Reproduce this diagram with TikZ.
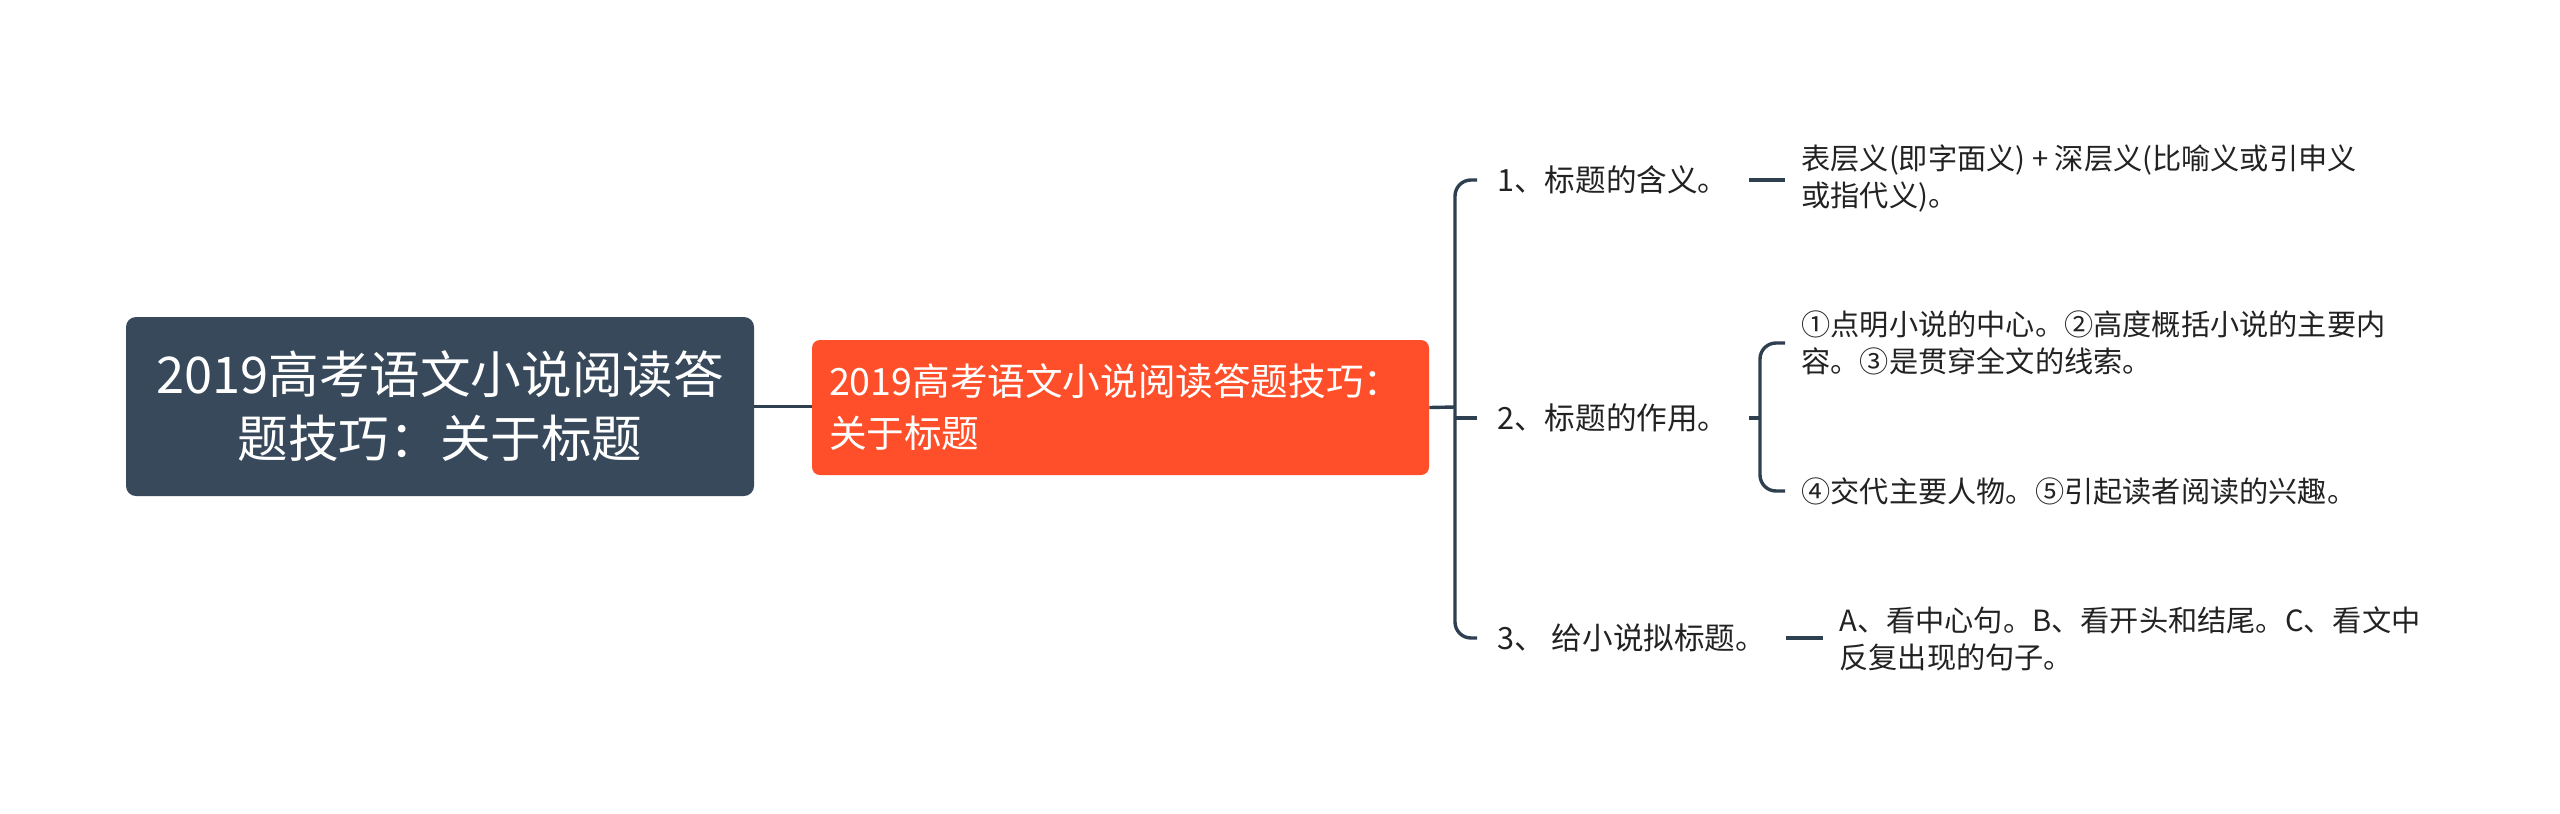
\documentclass[tikz,border=0pt]{standalone}
\usepackage{fontspec}
\setmainfont{Noto Sans CJK SC}
\definecolor{rootc}{HTML}{37495A}
\definecolor{mainc}{HTML}{FF4F2A}
\definecolor{linec}{HTML}{2E3F4F}
\definecolor{txtc}{HTML}{222222}
\begin{document}
\begin{tikzpicture}[x=0.5pt,y=-0.5pt,
  conn/.style={draw=linec,line width=1.7pt},
  rootbox/.style={fill=rootc, rounded corners=5pt, text=white, font=\fontsize{25.3}{32}\selectfont, align=center, minimum width=314pt, minimum height=89.5pt, inner sep=0pt},
  mainbox/.style={fill=mainc, rounded corners=4pt, text=white, font=\fontsize{18.8}{26}\selectfont, align=left, text width=291.5pt, minimum height=67.5pt, inner xsep=8.5pt, inner ysep=0pt},
  subnode/.style={text=txtc, font=\fontsize{15.3}{18}\selectfont, inner xsep=10pt, inner ysep=2pt, anchor=west},
  leaf/.style={text=txtc, font=\fontsize{14.6}{18.5}\selectfont, inner xsep=8pt, inner ysep=2pt, anchor=west, align=left}]
\useasboundingbox (0,0) rectangle (2560,814);
\node[rootbox] (root) at (440,406.5) {2019高考语文小说阅读答\\题技巧：关于标题};
\node[mainbox] (main) at (1120.5,407.5) {2019高考语文小说阅读答题技巧：\\关于标题};
\node[subnode] (n1) at (1477,180) {1、标题的含义。};
\node[subnode] (n2) at (1477,418) {2、标题的作用。};
\node[subnode] (n3) at (1477,638) {3、 给小说拟标题。};
\node[leaf] (l1) at (1785,178) {表层义(即字面义) + 深层义(比喻义或引申义\\或指代义)。};
\node[leaf] (l2a) at (1785,343) {①点明小说的中心。②高度概括小说的主要内\\容。③是贯穿全文的线索。};
\node[leaf] (l2b) at (1785,491) {④交代主要人物。⑤引起读者阅读的兴趣。};
\node[leaf] (l3) at (1823,639) {A、看中心句。B、看开头和结尾。C、看文中\\反复出现的句子。};
\draw[conn] (root.east) -- (root.east -| main.west);
\coordinate (b1) at (1455,407);
\draw[conn] (main.east) -- (b1);
\draw[conn, rounded corners=8pt] (n1.west) -| (b1) |- (n3.west);
\draw[conn] (n2.west -| b1) -- (n2.west);
\draw[conn] (n1.east) -- (n1.east -| l1.west);
\coordinate (b2) at (1760,418);
\draw[conn] (n2.east) -- (b2);
\draw[conn, rounded corners=8pt] (l2a.west) -| (b2) |- (l2b.west);
\draw[conn] (n3.east) -- (n3.east -| l3.west);
\end{tikzpicture}
\end{document}
